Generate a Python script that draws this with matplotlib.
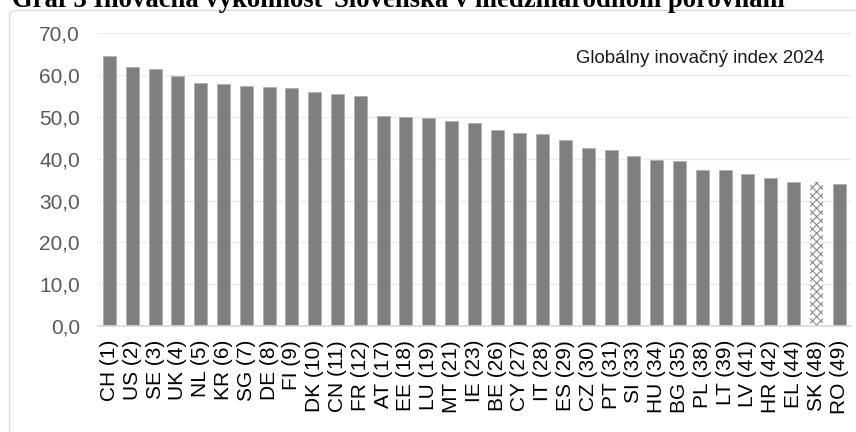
import numpy as np
import matplotlib
matplotlib.use("Agg")
import matplotlib.pyplot as plt
from matplotlib.patches import FancyBboxPatch

# Global Innovation Index 2024 scores, rank in brackets
countries = ["CH (1)", "US (2)", "SE (3)", "UK (4)", "NL (5)", "KR (6)", "SG (7)", "DE (8)",
             "FI (9)", "DK (10)", "CN (11)", "FR (12)", "AT (17)", "EE (18)", "LU (19)",
             "MT (21)", "IE (23)", "BE (26)", "CY (27)", "IT (28)", "ES (29)", "CZ (30)",
             "PT (31)", "SI (33)", "HU (34)", "BG (35)", "PL (38)", "LT (39)", "LV (41)",
             "HR (42)", "EL (44)", "SK (48)", "RO (49)"]
scores = [64.6, 61.9, 61.6, 59.7, 58.1, 57.8, 57.3, 57.2,
          56.9, 55.9, 55.4, 55.0, 50.2, 50.1, 49.8,
          49.0, 48.5, 46.9, 46.1, 46.0, 44.6, 42.7,
          42.0, 40.6, 39.8, 39.5, 37.4, 37.3, 36.4,
          35.5, 34.4, 34.4, 34.0]
highlight = "SK (48)"
yticks = [0, 10, 20, 30, 40, 50, 60, 70]

plt.rcParams["font.family"] = ["Liberation Sans", "DejaVu Sans"]
plt.rcParams["hatch.linewidth"] = 0.8

fig = plt.figure(figsize=(8.56, 4.32), dpi=100)

# chart frame
frame = FancyBboxPatch((9.5 / 856, -0.05), 1.0, 1.05 - 9.5 / 432 - 0.002,
                       boxstyle="round,pad=0,rounding_size=0.01",
                       transform=fig.transFigure, facecolor="white",
                       edgecolor="#d9d9d9", linewidth=1.0, zorder=0)
fig.patches.append(frame)

fig.text(12 / 856, 1 - 7 / 432, "Graf 3 Inovačná výkonnosť Slovenska v medzinárodnom porovnaní",
         family="Liberation Serif", fontweight="bold", fontsize=19.2,
         ha="left", va="baseline", color="black")

ax = fig.add_axes([98 / 856, 106 / 432, (850.5 - 98) / 856, (326 - 33.4) / 432])
ax.set_facecolor("none")
ax.set_zorder(2)

x = np.arange(len(countries))
for i, (c, v) in enumerate(zip(countries, scores)):
    if c == highlight:
        ax.bar(i, v, width=0.57, facecolor="white", edgecolor="#8c8c8c",
               hatch="xxxx", linewidth=0, zorder=3)
    else:
        ax.bar(i, v, width=0.57, color="#7f7f7f", edgecolor="#b0b0b0",
               linewidth=0.6, zorder=3)

ax.set_xlim(-0.5, len(countries) - 0.5)
ax.set_ylim(0, 70)
ax.set_yticks(yticks)
ax.set_yticklabels([f"{t:.1f}".replace(".", ",") for t in yticks])
ax.set_xticks(x)
ax.set_xticklabels(countries, rotation=90)

ax.grid(axis="y", color="#ebebeb", linewidth=1.0, zorder=0)
ax.set_axisbelow(True)
for s in ["top", "right", "left"]:
    ax.spines[s].set_visible(False)
ax.spines["bottom"].set_color("#d9d9d9")
ax.spines["bottom"].set_linewidth(1.2)
ax.spines["bottom"].set_zorder(4)

ax.tick_params(axis="both", length=0, labelsize=15, colors="#595959")
ax.tick_params(axis="y", pad=13)
ax.tick_params(axis="x", pad=10, labelcolor="black")

ax.text(0.965, 0.913, "Globálny inovačný index 2024", transform=ax.transAxes,
        ha="right", va="center", fontsize=13.4, color="#1a1a1a")

fig.savefig("out.png", dpi=100)
